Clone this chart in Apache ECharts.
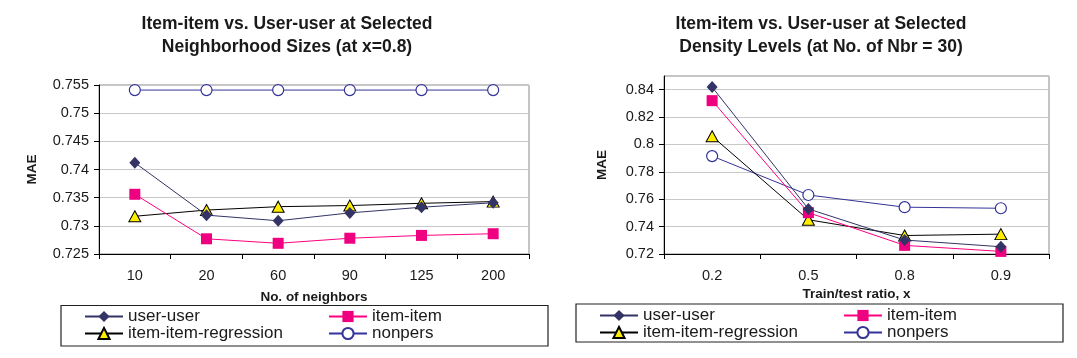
<!DOCTYPE html>
<html>
<head>
<meta charset="utf-8">
<script src="https://cdn.jsdelivr.net/npm/echarts@6/dist/echarts.min.js"></script>
<style>html,body{margin:0;padding:0;background:#fff}#c{width:1077px;height:358px}</style>
</head>
<body>
<div id="c"></div>
<script>
// ---- data ----
const leftCategories = ['10', '20', '60', '90', '125', '200'];
const leftUserUser = [0.7412, 0.7319, 0.7309, 0.7323, 0.7333, 0.7341];
const leftItemItem = [0.7356, 0.7277, 0.7269, 0.7278, 0.7283, 0.7286];
const leftRegression = [0.7317, 0.7328, 0.7334, 0.7336, 0.7340, 0.7343];
const leftNonpers = [0.7541, 0.7541, 0.7541, 0.7541, 0.7541, 0.7541];

const rightCategories = ['0.2', '0.5', '0.8', '0.9'];
const rightUserUser = [0.8419, 0.7529, 0.7302, 0.7253];
const rightItemItem = [0.8320, 0.7502, 0.7263, 0.7219];
const rightRegression = [0.8060, 0.7450, 0.7335, 0.7345];
const rightNonpers = [0.7915, 0.7631, 0.7542, 0.7534];

const seriesNames = ['user-user', 'item-item', 'item-item-regression', 'nonpers'];
const titles = ['Item-item vs. User-user at Selected\nNeighborhood Sizes (at x=0.8)',
                'Item-item vs. User-user at Selected\nDensity Levels (at No. of Nbr = 30)'];
const xNames = ['No. of neighbors', 'Train/test ratio, x'];
const yName = 'MAE';

// ---- styles ----
const FONT = "'Liberation Sans', Arial, sans-serif";
const TXT = '#1a1a1a';
const styles = [
  {symbol: 'diamond', symbolSize: [11, 12], line: '#333366', fill: '#333366', border: '#333366', bw: 0},
  {symbol: 'rect', symbolSize: 11, line: '#ff0080', fill: '#ee0080', border: '#ee0080', bw: 0},
  {symbol: 'triangle', symbolSize: [12, 11], line: '#000000', fill: '#ffee00', border: '#000000', bw: 1},
  {symbol: 'circle', symbolSize: 11, line: '#333399', fill: '#ffffff', border: '#333399', bw: 1.2}
];

function mkSeries(data, idx, axisIdx) {
  const s = styles[idx];
  return {
    name: seriesNames[idx], type: 'line', data: data,
    xAxisIndex: axisIdx, yAxisIndex: axisIdx,
    symbol: s.symbol, symbolSize: s.symbolSize, showAllSymbol: true,
    lineStyle: {color: s.line, width: 1},
    itemStyle: {color: s.fill, borderColor: s.border, borderWidth: s.bw},
    z: 10 - idx, animation: false
  };
}

function mkXAxis(cats, gi, name, nameGap) {
  return {
    type: 'category', data: cats, gridIndex: gi, boundaryGap: true,
    name: name, nameLocation: 'middle', nameGap: nameGap,
    nameTextStyle: {fontFamily: FONT, fontWeight: 'bold', fontSize: 13.5, color: TXT},
    axisLine: {lineStyle: {color: '#000', width: 1}},
    axisTick: {show: true, length: 5, lineStyle: {color: '#000'}},
    axisLabel: {fontFamily: FONT, fontSize: 14.5, color: TXT, margin: 14},
    splitLine: {show: false}
  };
}
function mkYAxis(gi, min, max, interval, nameGap) {
  return {
    type: 'value', gridIndex: gi, min: min, max: max, interval: interval,
    name: yName, nameLocation: 'middle', nameGap: nameGap, nameRotate: 90,
    nameTextStyle: {fontFamily: FONT, fontWeight: 'bold', fontSize: 13.5, color: TXT},
    axisLine: {show: true, lineStyle: {color: '#000', width: 1}},
    axisTick: {show: true, length: 5, lineStyle: {color: '#000'}},
    axisLabel: {fontFamily: FONT, fontSize: 14.5, color: TXT, margin: 10, showMaxLabel: gi === 0,
      formatter: v => String(+(+v).toFixed(3))},
    splitLine: {show: true, lineStyle: {color: '#c8c8c8', width: 1}}
  };
}

function mkLegend(names, left, top) {
  return {
    data: names, orient: 'vertical', left: left, top: top,
    itemWidth: 38, itemHeight: 14, itemGap: 0, padding: 0,
    textStyle: {fontFamily: FONT, fontSize: 17, color: TXT, lineHeight: 17, padding: [0, 0, 0, 0]},
    selectedMode: false
  };
}

const chart = echarts.init(document.getElementById('c'), null, {renderer: 'canvas'});
chart.setOption({
  animation: false,
  backgroundColor: '#fff',
  title: [
    {text: titles[0], left: 282, top: 8, textAlign: 'center',
     textStyle: {fontFamily: FONT, fontWeight: 'bold', fontSize: 17.5, lineHeight: 23, color: TXT}},
    {text: titles[1], left: 816, top: 8, textAlign: 'center',
     textStyle: {fontFamily: FONT, fontWeight: 'bold', fontSize: 17.5, lineHeight: 23, color: TXT}}
  ],
  grid: [
    {left: 99, top: 85, right: 548, bottom: 104, show: true, borderColor: '#8a8a8a', borderWidth: 1, backgroundColor: '#fff'},
    {left: 664, top: 76, right: 28, bottom: 104, show: true, borderColor: '#8a8a8a', borderWidth: 1, backgroundColor: '#fff'}
  ],
  xAxis: [mkXAxis(leftCategories, 0, xNames[0], 36), mkXAxis(rightCategories, 1, xNames[1], 33)],
  yAxis: [mkYAxis(0, 0.725, 0.755, 0.005, 60), mkYAxis(1, 0.72, 0.85, 0.02, 55)],
  legend: [
    mkLegend([seriesNames[0], seriesNames[2]], 84, 308),
    mkLegend([seriesNames[1], seriesNames[3]], 328, 308),
    mkLegend([seriesNames[0], seriesNames[2]], 599, 307),
    mkLegend([seriesNames[1], seriesNames[3]], 843, 307)
  ],
  graphic: [
    {type: 'rect', shape: {x: 61, y: 305.5, width: 487, height: 40.5}, style: {fill: 'none', stroke: '#222', lineWidth: 1.2}, silent: true},
    {type: 'rect', shape: {x: 576, y: 304, width: 487, height: 38}, style: {fill: 'none', stroke: '#222', lineWidth: 1.2}, silent: true}
  ],
  series: [
    mkSeries(leftUserUser, 0, 0), mkSeries(leftItemItem, 1, 0),
    mkSeries(leftRegression, 2, 0), mkSeries(leftNonpers, 3, 0),
    mkSeries(rightUserUser, 0, 1), mkSeries(rightItemItem, 1, 1),
    mkSeries(rightRegression, 2, 1), mkSeries(rightNonpers, 3, 1)
  ]
});
</script>
</body>
</html>
